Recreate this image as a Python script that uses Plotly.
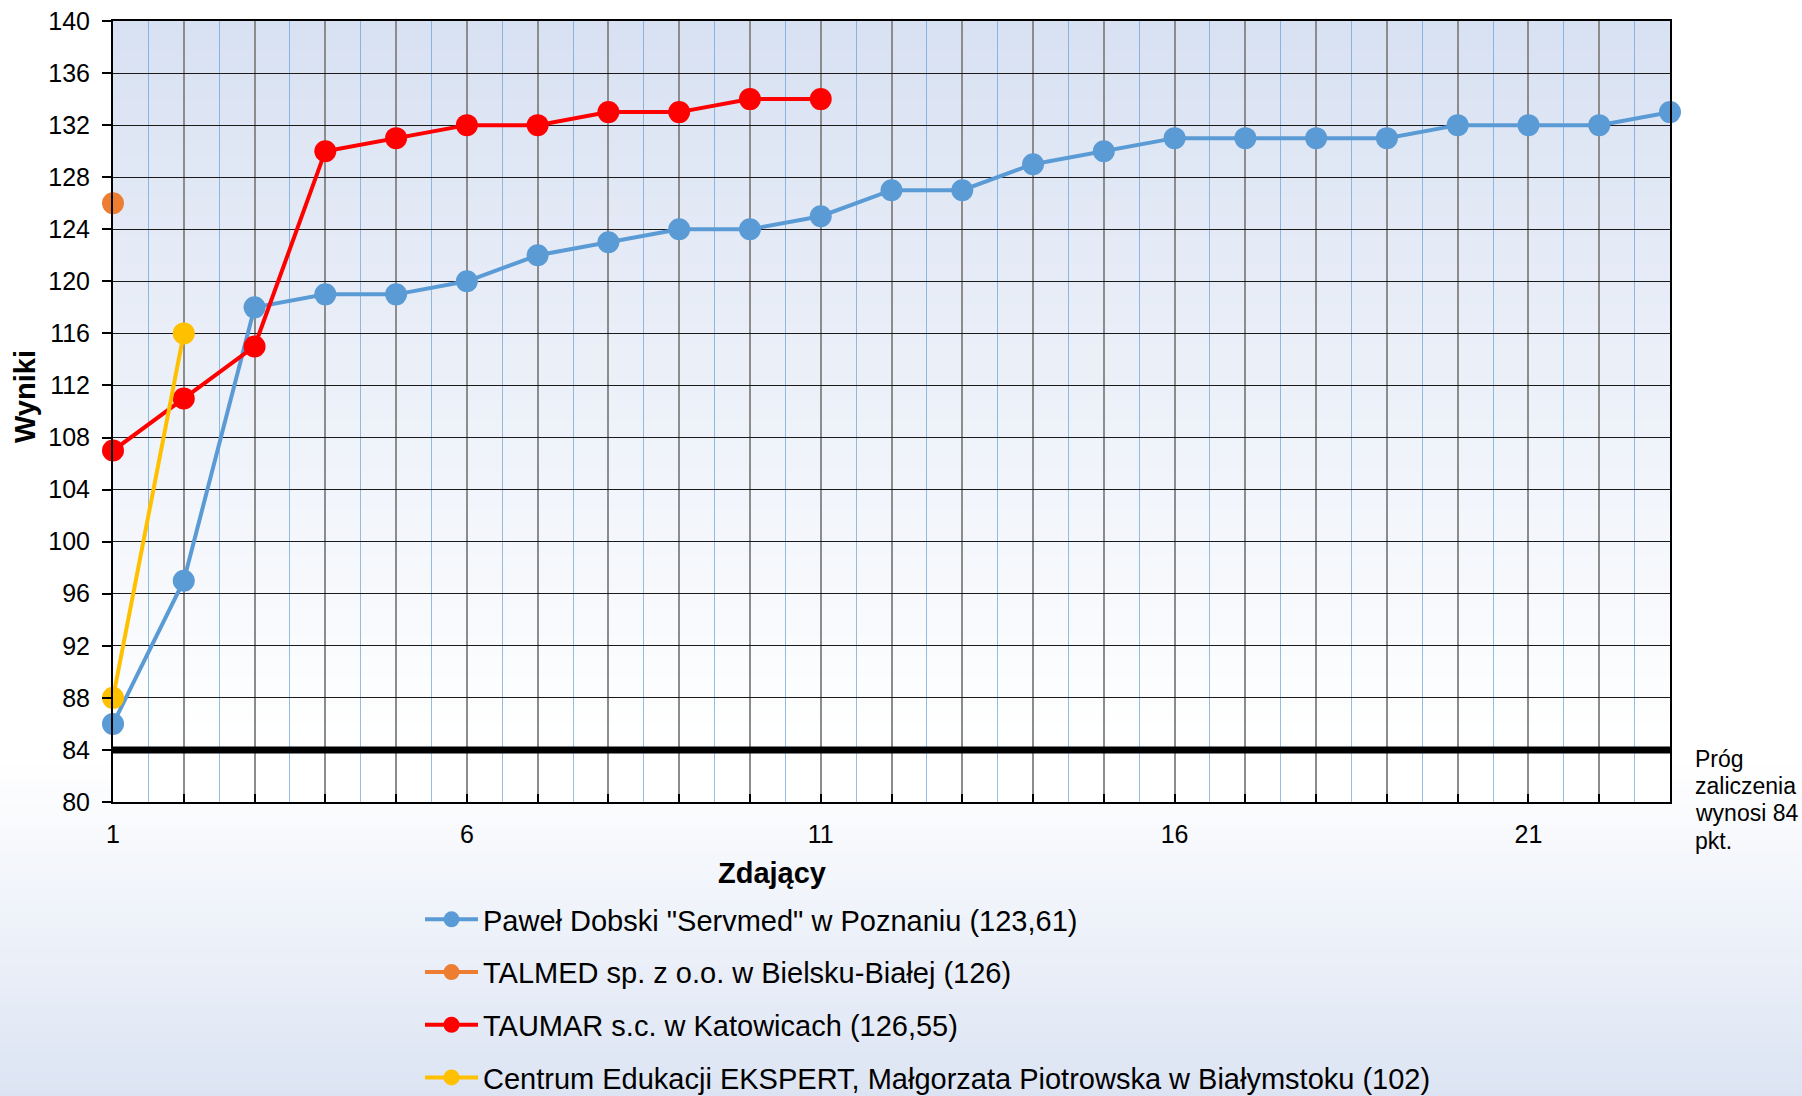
import plotly.graph_objects as go

# ---------------- data ----------------
zdajacy = list(range(1, 24))
x_tick_labels = ["1", "6", "11", "16", "21"]

dobski_name = 'Paweł Dobski "Servmed" w Poznaniu (123,61)'
dobski = [86, 97, 118, 119, 119, 120, 122, 123, 124, 124, 125, 127, 127,
          129, 130, 131, 131, 131, 131, 132, 132, 132, 133]

talmed_name = "TALMED sp. z o.o. w Bielsku-Białej (126)"
talmed = [126]

taumar_name = "TAUMAR s.c. w Katowicach (126,55)"
taumar = [107, 111, 115, 130, 131, 132, 132, 133, 133, 134, 134]

ekspert_name = "Centrum Edukacji EKSPERT, Małgorzata Piotrowska w Białymstoku (102)"
ekspert = [88, 116]

threshold = 84
threshold_lines = ["Próg", "zaliczenia", "wynosi 84", "pkt."]

y_min, y_max, y_step = 80, 140, 4

# ---------------- style ----------------
FONT = "Liberation Sans, Arial, sans-serif"
W, H = 1802, 1096
ML, MR, MT, MB = 113, 132, 21, 294
PW, PH = W - ML - MR, H - MT - MB

series = [
    (dobski_name, dobski, "#5b9bd5"),
    (talmed_name, talmed, "#ed7d31"),
    (taumar_name, taumar, "#ff0000"),
    (ekspert_name, ekspert, "#ffc000"),
]

fig = go.Figure()
for i, (name, vals, col) in enumerate(series):
    fig.add_trace(go.Scatter(
        x=zdajacy[:len(vals)], y=vals, name=name,
        mode="lines+markers",
        line=dict(color=col, width=4),
        marker=dict(color=col, size=22),
        cliponaxis=False,
        legendgroup=f"g{i}",
    ))

# ---------- gradients via shapes ----------
def lerp(c1, c2, t):
    return "rgb(%d,%d,%d)" % tuple(round(a + (b - a) * t) for a, b in zip(c1, c2))

shapes = []
fx0, fx1 = -ML / PW, 1 + MR / PW
fy_top = 1 + MT / PH
n = 70
start_px = 760
white = (255, 255, 255)
pblue = (220, 228, 243)
shapes.append(dict(type="rect", xref="paper", yref="paper", x0=fx0, x1=fx1,
                   y0=(H - MB - start_px) / PH, y1=fy_top, fillcolor="white",
                   line=dict(width=0), layer="below"))
for k in range(n):
    t0 = k / n
    t1 = (k + 1) / n
    ya = start_px + (H - start_px) * t0
    yb = start_px + (H - start_px) * t1 + 1
    shapes.append(dict(type="rect", xref="paper", yref="paper", x0=fx0, x1=fx1,
                       y0=(H - MB - yb) / PH, y1=(H - MB - ya) / PH,
                       fillcolor=lerp(white, pblue, (t0 + t1) / 2),
                       line=dict(width=0), layer="below"))
top_c = (216, 225, 242)
m = 80
for k in range(m):
    t0 = k / m
    t1 = (k + 1) / m
    shapes.append(dict(type="rect", xref="paper", yref="paper", x0=0, x1=1,
                       y0=1 - t1 - 0.002, y1=1 - t0,
                       fillcolor=lerp(top_c, white, min(1, (t0 + t1) / 2 / 0.92)),
                       line=dict(width=0), layer="below"))
shapes.append(dict(type="line", xref="paper", yref="y", x0=0, x1=1,
                   y0=threshold, y1=threshold,
                   line=dict(color="black", width=7), layer="above"))

annotations = [
    dict(text="<b>Zdający</b>", xref="paper", yref="paper",
         x=(772 - ML) / PW, y=(H - MB - 873) / PH, xanchor="center", yanchor="middle",
         showarrow=False, font=dict(family=FONT, size=29, color="black")),
    dict(text="<b>Wyniki</b>", xref="paper", yref="paper", textangle=-90,
         x=(25 - ML) / PW, y=(H - MB - 397) / PH, xanchor="center", yanchor="middle",
         showarrow=False, font=dict(family=FONT, size=29, color="black")),
]
for j, line_txt in enumerate(threshold_lines):
    base_px = 767 + 27.2 * j
    annotations.append(dict(text=line_txt, xref="paper", yref="paper",
                            x=(1693 - ML) / PW, y=(H - MB - (base_px - 8)) / PH,
                            xanchor="left", yanchor="middle", showarrow=False,
                            font=dict(family=FONT, size=23, color="black")))

ticktext = [str(v) if str(v) in x_tick_labels else "" for v in zdajacy]

fig.update_layout(
    width=W, height=H,
    margin=dict(l=ML, r=MR, t=MT, b=MB, pad=0, autoexpand=False),
    paper_bgcolor="white",
    plot_bgcolor="rgba(0,0,0,0)",
    font=dict(family=FONT, color="black"),
    shapes=shapes,
    annotations=annotations,
    showlegend=True,
    legend=dict(
        orientation="v", x=(420 - ML) / PW, y=(H - MB - 894) / PH,
        xanchor="left", yanchor="top",
        font=dict(family=FONT, size=29, color="black"),
        bgcolor="rgba(0,0,0,0)", itemwidth=53,
        tracegroupgap=12, traceorder="grouped",
    ),
    xaxis=dict(
        range=[zdajacy[0], zdajacy[-1]],
        tickmode="array", tickvals=zdajacy, ticktext=ticktext,
        ticks="inside", ticklen=8, tickwidth=1.5, tickcolor="black",
        ticklabelstandoff=9,
        tickfont=dict(family=FONT, size=25, color="black"),
        showgrid=True, gridcolor="#8c8c8c", gridwidth=1.6,
        minor=dict(tickmode="linear", tick0=1.5, dtick=1, showgrid=True,
                   gridcolor="rgba(91,155,213,0.65)", gridwidth=1.2, ticks=""),
        showline=True, linecolor="black", linewidth=2, mirror=True,
        zeroline=False,
    ),
    yaxis=dict(
        range=[y_min, y_max], tickmode="linear", tick0=y_min, dtick=y_step,
        ticks="outside", ticklen=9, tickwidth=1.5, tickcolor="black",
        ticklabelstandoff=7,
        tickfont=dict(family=FONT, size=25, color="black"),
        showgrid=True, gridcolor="#1a1a1a", gridwidth=1.3,
        showline=True, linecolor="black", linewidth=2, mirror=True,
        zeroline=False,
    ),
)

fig.write_html(
    "out.html",
    config={"displayModeBar": False},
    post_script="document.body.style.margin='0';document.body.style.overflow='hidden';",
)
